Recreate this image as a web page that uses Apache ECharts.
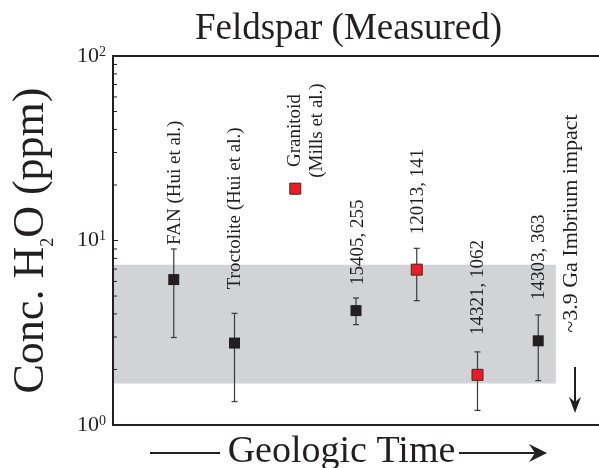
<!DOCTYPE html>
<html>
<head>
<meta charset="utf-8">
<script src="https://cdn.jsdelivr.net/npm/echarts@6/dist/echarts.min.js"></script>
<style>
  html, body { margin: 0; padding: 0; background: #fff; }
  #main { width: 599px; height: 468px; }
</style>
</head>
<body>
<div id="main"></div>
<script>
// samples, oldest to youngest
const sampleNames = ['FAN (Hui et al.)', 'Troctolite (Hui et al.)', 'Granitoid\n(Mills et al.)',
  '15405, 255', '12013, 141', '14321, 1062', '14303, 363'];
const sampleOrder = [1, 2, 3, 4, 5, 6, 7];
// H2O in feldspar, ppm
const h2oMean = [6.14, 2.78, 19.1, 4.17, 6.95, 1.87, 2.86];
const h2oLow = [2.98, 1.34, 17.9, 3.50, 4.72, 1.20, 1.74];
const h2oHigh = [9.00, 4.03, 20.3, 4.88, 9.07, 2.49, 3.95];
const redSample = [false, false, true, false, true, true, false];
// grey range band
const bandRange = [1.68, 7.40];
const bandEnd = 7.29;
const minorTicks = [2, 3, 4, 5, 6, 7, 8, 9, 20, 30, 40, 50, 60, 70, 80, 90];

// label placement (pixels above the error bar, sideways shift)
const labelGap = [4, 24, 6, 13, 14, 17, 15];
const labelShift = [1, 1, 11, 2, 1, 1, 1];

const ink = '#231f20';
const serif = '"Liberation Serif", "Times New Roman", serif';

const myChart = echarts.init(document.getElementById('main'));

const points = sampleOrder.map((x, i) => [x, h2oMean[i], h2oLow[i], h2oHigh[i]]);

const option = {
  animation: false,
  title: {
    text: 'Feldspar (Measured)',
    left: 343.5,
    top: 6,
    textAlign: 'center',
    textStyle: { fontFamily: serif, fontSize: 37, fontWeight: 'normal', color: ink }
  },
  grid: { left: 113, right: -4, top: 56, bottom: 43 },
  xAxis: [
    {
      type: 'value', min: 0, max: 8, z: 3,
      axisLine: { show: true, lineStyle: { color: ink, width: 2 } },
      axisTick: { show: false }, axisLabel: { show: false }, splitLine: { show: false }
    },
    {
      type: 'value', min: 0, max: 8, position: 'top', z: 3,
      axisLine: { show: true, lineStyle: { color: ink, width: 2 } },
      axisTick: { show: false }, axisLabel: { show: false }, splitLine: { show: false }
    }
  ],
  yAxis: {
    type: 'log', logBase: 10, min: 1, max: 100, z: 3,
    name: '{a|Conc. H}{s|2}{a|O (ppm)}',
    nameLocation: 'middle',
    nameRotate: 90,
    nameGap: 60,
    nameTextStyle: {
      color: ink,
      rich: {
        a: { fontFamily: serif, fontSize: 44, lineHeight: 44, verticalAlign: 'top', color: ink },
        s: { fontFamily: serif, fontSize: 18, lineHeight: 18, verticalAlign: 'top', padding: [30, 0, 0, 0], color: ink }
      }
    },
    axisLine: { show: true, lineStyle: { color: ink, width: 2 } },
    axisTick: { show: true, inside: true, length: 5, lineStyle: { color: ink, width: 1 } },
    splitLine: { show: false },
    axisLabel: {
      margin: 7,
      formatter: function (v) {
        return '{b|10}{e|' + Math.round(Math.log10(v)) + '}';
      },
      rich: {
        b: { fontFamily: serif, fontSize: 22, lineHeight: 22, verticalAlign: 'top', color: ink },
        e: { fontFamily: serif, fontSize: 14, lineHeight: 14, verticalAlign: 'top', color: ink }
      }
    }
  },
  series: [
    {
      // minor log ticks on the left axis
      type: 'custom',
      silent: true,
      z: 4,
      data: minorTicks.map(v => [0, v]),
      renderItem: function (params, api) {
        const p = api.coord([0, api.value(1)]);
        return {
          type: 'line',
          shape: { x1: p[0], y1: p[1], x2: p[0] + 4, y2: p[1] },
          style: { stroke: ink, lineWidth: 1 }
        };
      }
    },
    {
      type: 'custom',
      silent: true,
      data: points,
      encode: { x: 0, y: [1, 2, 3] },
      markArea: {
        silent: true,
        itemStyle: { color: '#d1d3d4' },
        data: [[{ coord: [0, bandRange[0]] }, { coord: [bandEnd, bandRange[1]] }]]
      },
      renderItem: function (params, api) {
        const i = params.dataIndex;
        const mid = api.coord([api.value(0), api.value(1)]);
        const lo = api.coord([api.value(0), api.value(2)]);
        const hi = api.coord([api.value(0), api.value(3)]);
        const x = mid[0];
        const s = 11;
        const barStyle = { stroke: '#3a3a3a', lineWidth: 1.2 };
        const text = sampleNames[i].split('\n').map(t => '{c|' + t + '}').join('\n');
        return {
          type: 'group',
          children: [
            { type: 'line', shape: { x1: x, y1: lo[1], x2: x, y2: hi[1] }, style: barStyle },
            { type: 'line', shape: { x1: x - 3, y1: lo[1], x2: x + 3, y2: lo[1] }, style: barStyle },
            { type: 'line', shape: { x1: x - 3, y1: hi[1], x2: x + 3, y2: hi[1] }, style: barStyle },
            {
              type: 'rect',
              shape: { x: x - s / 2, y: mid[1] - s / 2, width: s, height: s },
              style: redSample[i]
                ? { fill: '#ed1c24', stroke: '#4a2424', lineWidth: 1 }
                : { fill: ink }
            },
            {
              type: 'text',
              x: x + labelShift[i],
              y: hi[1] - labelGap[i],
              rotation: Math.PI / 2,
              style: {
                text: text,
                align: 'left',
                verticalAlign: 'middle',
                rich: {
                  c: { fontFamily: serif, fontSize: 19, lineHeight: 22, align: 'center', fill: ink }
                }
              }
            }
          ]
        };
      }
    }
  ],
  graphic: [
    {
      type: 'text', x: 341.5, y: 452.5,
      style: { text: 'Geologic Time', font: '38px ' + serif, fill: ink, align: 'center', verticalAlign: 'middle' }
    },
    { type: 'line', shape: { x1: 150, y1: 453, x2: 220, y2: 453 }, style: { stroke: ink, lineWidth: 2 } },
    { type: 'line', shape: { x1: 459, y1: 453, x2: 536, y2: 453 }, style: { stroke: ink, lineWidth: 2 } },
    { type: 'polygon', shape: { points: [[547, 453], [529, 444], [535, 453], [529, 462]] }, style: { fill: ink } },
    {
      type: 'text', x: 571, y: 223.5, rotation: Math.PI / 2,
      style: { text: '~3.9 Ga Imbrium impact', font: '22px ' + serif, fill: ink, align: 'center', verticalAlign: 'middle' }
    },
    { type: 'line', shape: { x1: 575, y1: 367, x2: 575, y2: 404 }, style: { stroke: ink, lineWidth: 2 } },
    { type: 'polygon', shape: { points: [[575, 413], [569, 397], [575, 402], [581, 397]] }, style: { fill: ink } }
  ]
};

myChart.setOption(option);
</script>
</body>
</html>
